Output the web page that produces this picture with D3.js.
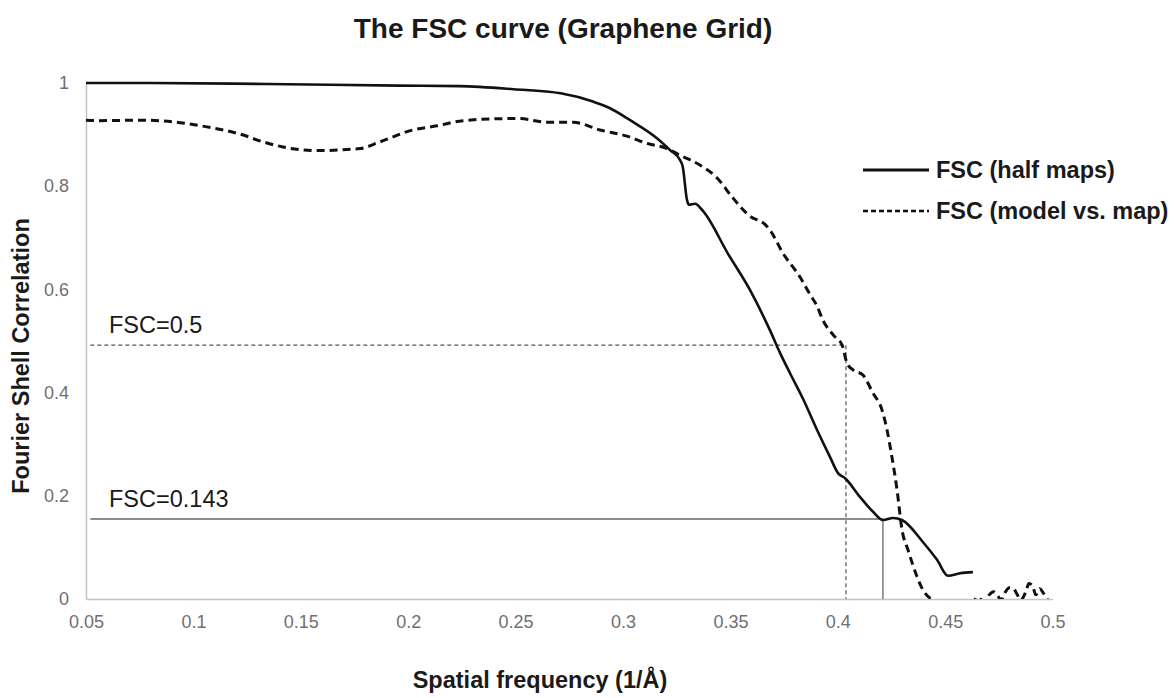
<!DOCTYPE html>
<html>
<head>
<meta charset="utf-8">
<script src="https://cdn.jsdelivr.net/npm/d3@7/dist/d3.min.js"></script>
<style>
  html, body { margin: 0; padding: 0; background: #fff; }
  svg { display: block; }
  text { font-family: "Liberation Sans", Arial, Helvetica, sans-serif; }
</style>
</head>
<body>
<svg id="chart" width="1174" height="698"></svg>
<script>
// ---- data ----
const xTicks = [0.05, 0.1, 0.15, 0.2, 0.25, 0.3, 0.35, 0.4, 0.45, 0.5];
const xTickLabels = ["0.05", "0.1", "0.15", "0.2", "0.25", "0.3", "0.35", "0.4", "0.45", "0.5"];
const yTicks = [0, 0.2, 0.4, 0.6, 0.8, 1];
const yTickLabels = ["0", "0.2", "0.4", "0.6", "0.8", "1"];

// FSC (half maps)
const halfX = [0.05, 0.08, 0.134, 0.196, 0.224, 0.249, 0.271, 0.286, 0.2935, 0.3033, 0.3158, 0.3219, 0.3265, 0.3278, 0.3298, 0.3307, 0.3335, 0.3372, 0.3489, 0.3591, 0.3684, 0.3731, 0.3777, 0.3838, 0.3903, 0.3964, 0.4001, 0.4034, 0.4103, 0.4164, 0.4210, 0.4257, 0.4299, 0.4397, 0.4462, 0.4513, 0.4569, 0.4629];
const halfY = [1.0, 1.0, 0.998, 0.995, 0.994, 0.988, 0.980, 0.964, 0.952, 0.928, 0.893, 0.870, 0.851, 0.838, 0.773, 0.764, 0.766, 0.752, 0.669, 0.599, 0.521, 0.477, 0.438, 0.388, 0.328, 0.275, 0.244, 0.234, 0.198, 0.169, 0.153, 0.157, 0.153, 0.110, 0.076, 0.045, 0.050, 0.052];

// FSC (model vs. map)
const modelX = [0.05, 0.0551, 0.0765, 0.0938, 0.1063, 0.1138, 0.1217, 0.1324, 0.1417, 0.1575, 0.1776, 0.1869, 0.2022, 0.2134, 0.2255, 0.2460, 0.2520, 0.2646, 0.2767, 0.2893, 0.3019, 0.3112, 0.3205, 0.3265, 0.3358, 0.3438, 0.3512, 0.3591, 0.3661, 0.3684, 0.3745, 0.3824, 0.3871, 0.3903, 0.3931, 0.3978, 0.4020, 0.4043, 0.4071, 0.4117, 0.4164, 0.4206, 0.4229, 0.4252, 0.4276, 0.4299, 0.4327, 0.4369, 0.4397, 0.4429, 0.4443, 0.4470, 0.4520, 0.4580, 0.4635, 0.4648, 0.4662, 0.4685, 0.4705, 0.4725, 0.4745, 0.4760, 0.4778, 0.4798, 0.4818, 0.4836, 0.4852, 0.4876, 0.4890, 0.4906, 0.4922, 0.4940, 0.4956, 0.4972, 0.4990];
const modelY = [0.928, 0.927, 0.928, 0.923, 0.915, 0.909, 0.901, 0.886, 0.876, 0.869, 0.873, 0.886, 0.909, 0.917, 0.927, 0.931, 0.931, 0.924, 0.924, 0.909, 0.897, 0.883, 0.873, 0.860, 0.841, 0.816, 0.777, 0.742, 0.726, 0.715, 0.670, 0.624, 0.590, 0.568, 0.540, 0.512, 0.492, 0.457, 0.444, 0.434, 0.399, 0.366, 0.328, 0.275, 0.211, 0.134, 0.095, 0.043, 0.017, 0.002, 0.0, -0.012, -0.020, -0.015, -0.004, 0.004, 0.000, -0.005, 0.008, 0.014, 0.006, -0.002, 0.012, 0.022, 0.020, 0.008, -0.002, 0.015, 0.030, 0.026, 0.008, 0.020, 0.012, 0.002, -0.012];

// threshold reference lines
const thresholds = [
  { label: "FSC=0.5", y: 0.492, xStart: 0.052, xEnd: 0.4038, dashed: true },
  { label: "FSC=0.143", y: 0.155, xStart: 0.052, xEnd: 0.4210, dashed: false }
];

const legendItems = [
  { label: "FSC (half maps)", dashed: false },
  { label: "FSC (model vs. map)", dashed: true }
];

// ---- chart ----
const svg = d3.select("#chart");
const x = d3.scaleLinear().domain([0.05, 0.5]).range([86, 1052.6]);
const y = d3.scaleLinear().domain([0, 1]).range([599, 83]);

// title
svg.append("text")
  .attr("x", 563).attr("y", 38)
  .attr("text-anchor", "middle")
  .attr("font-size", 28).attr("font-weight", "bold").attr("fill", "#1a1a1a")
  .text("The FSC curve (Graphene Grid)");

// axes
const xAxis = d3.axisBottom(x).tickValues(xTicks)
  .tickFormat((d, i) => xTickLabels[i]).tickSize(0).tickSizeOuter(0).tickPadding(16);
const gx = svg.append("g").attr("transform", `translate(0,${y(0)})`).call(xAxis);
gx.select(".domain").attr("stroke", "#c4c4c4").attr("stroke-width", 1.5);
gx.selectAll("text").attr("font-size", 18).attr("fill", "#707070")
  .attr("font-family", "'Liberation Sans', Arial, sans-serif");

const yAxis = d3.axisLeft(y).tickValues(yTicks)
  .tickFormat((d, i) => yTickLabels[i]).tickSize(0).tickSizeOuter(0).tickPadding(17);
const gy = svg.append("g").attr("transform", `translate(${x(0.05)},0)`).call(yAxis);
gy.select(".domain").attr("stroke", "#c4c4c4").attr("stroke-width", 1.5);
gy.selectAll("text").attr("font-size", 18).attr("fill", "#707070")
  .attr("font-family", "'Liberation Sans', Arial, sans-serif");

// axis titles
svg.append("text")
  .attr("transform", "translate(29,356) rotate(-90)")
  .attr("text-anchor", "middle")
  .attr("font-size", 23.5).attr("font-weight", "bold").attr("fill", "#1a1a1a")
  .text("Fourier Shell Correlation");
svg.append("text")
  .attr("x", 540).attr("y", 688)
  .attr("text-anchor", "middle")
  .attr("font-size", 23.5).attr("font-weight", "bold").attr("fill", "#1a1a1a")
  .text("Spatial frequency (1/Å)");

// threshold lines
thresholds.forEach(t => {
  const g = svg.append("g")
    .attr("stroke", t.dashed ? "#555" : "#666")
    .attr("stroke-width", t.dashed ? 1.2 : 1.3)
    .attr("stroke-dasharray", t.dashed ? "4,3" : null)
    .attr("fill", "none");
  g.append("line")
    .attr("x1", x(t.xStart)).attr("x2", x(t.xEnd))
    .attr("y1", y(t.y)).attr("y2", y(t.y));
  g.append("line")
    .attr("x1", x(t.xEnd)).attr("x2", x(t.xEnd))
    .attr("y1", y(t.y)).attr("y2", y(0));
  svg.append("text")
    .attr("x", 109).attr("y", y(t.y) - 12)
    .attr("font-size", 23.5).attr("fill", "#1a1a1a")
    .text(t.label);
});

// clip to plot area
svg.append("clipPath").attr("id", "plotclip")
  .append("rect").attr("x", x(0.05)).attr("y", 60)
  .attr("width", x(0.5) - x(0.05) + 5).attr("height", y(0) - 60);

const line = d3.line().x(d => x(d[0])).y(d => y(d[1])).curve(d3.curveMonotoneX);

const halfData = halfX.map((v, i) => [v, halfY[i]]);
const modelData = modelX.map((v, i) => [v, modelY[i]]);

svg.append("path")
  .datum(halfData)
  .attr("clip-path", "url(#plotclip)")
  .attr("fill", "none").attr("stroke", "#111").attr("stroke-width", 2.6)
  .attr("d", line);

svg.append("path")
  .datum(modelData)
  .attr("clip-path", "url(#plotclip)")
  .attr("fill", "none").attr("stroke", "#111").attr("stroke-width", 3)
  .attr("stroke-dasharray", "8,5")
  .attr("d", line);

// legend
legendItems.forEach((it, i) => {
  const ly = 170 + i * 41;
  svg.append("line")
    .attr("x1", 863).attr("x2", 929).attr("y1", ly).attr("y2", ly)
    .attr("stroke", "#111").attr("stroke-width", it.dashed ? 2.6 : 3.2)
    .attr("stroke-dasharray", it.dashed ? "5,3" : null);
  svg.append("text")
    .attr("x", 936).attr("y", ly + 8)
    .attr("font-size", 23.5).attr("font-weight", "bold").attr("fill", "#1a1a1a")
    .text(it.label);
});
</script>
</body>
</html>
